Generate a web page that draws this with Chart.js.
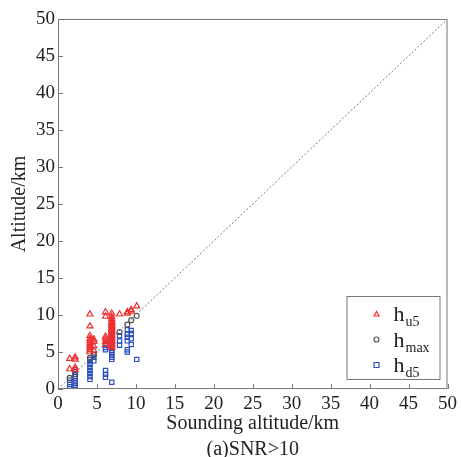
<!DOCTYPE html>
<html>
<head>
<meta charset="utf-8">
<script src="https://cdn.jsdelivr.net/npm/chart.js@4/dist/chart.umd.min.js"></script>
<style>
  html, body { margin: 0; padding: 0; background: #fff; }
</style>
</head>
<body>
<canvas id="c" width="461" height="457"></canvas>
<script>
const hu5Cols = [1.5, 2.2, 4.1, 4.6, 6.1, 6.9, 7.9, 8.9, 9.4, 10.1];
const hu5Vals = [
  [2.7, 4.1],
  [2.6, 2.9, 4.0, 4.3],
  [5.0, 5.3, 5.6, 5.9, 6.2, 6.5, 6.8, 7.2, 8.5, 10.1],
  [5.2, 5.8, 6.4, 6.7],
  [6.0, 6.4, 6.8, 7.1, 9.8, 10.4],
  [5.6, 5.8, 6.0, 6.2, 6.4, 6.6, 6.8, 7.0, 7.2, 7.4, 7.6, 7.8, 8.0, 8.2, 8.4, 8.6, 8.8, 9.0, 9.2, 9.5, 9.8, 10.2],
  [10.1],
  [10.2, 10.4],
  [10.5, 10.7],
  [11.2]
];

const hmaxCols = [1.5, 2.2, 4.1, 4.6, 6.1, 6.9, 7.9, 8.9, 9.4, 10.1];
const hmaxVals = [1.5, 2.0, 4.2, 4.6, 6.1, 6.8, 7.7, 8.7, 9.3, 9.9];

const hd5Cols = [1.5, 2.2, 4.1, 4.6, 6.1, 6.9, 7.9, 8.9, 9.4, 10.1];
const hd5Vals = [
  [0.3, 0.6, 1.2],
  [0.2, 0.5, 0.8, 1.1, 1.4, 1.7, 2.0, 2.3, 2.6],
  [1.3, 1.7, 2.1, 2.5, 2.9, 3.3, 3.7, 4.0],
  [3.8, 4.3, 4.7],
  [1.6, 2.0, 2.5, 5.3, 5.6],
  [0.9, 4.0, 4.3, 4.6, 4.9, 5.2, 5.5, 5.8, 6.1, 6.4, 6.7, 7.0],
  [5.9, 6.5, 7.2],
  [5.0, 5.3, 6.5, 7.0, 7.4, 8.0],
  [6.0, 6.8, 7.5, 7.9],
  [4.0]
];

const axisTicks = [0, 5, 10, 15, 20, 25, 30, 35, 40, 45, 50];

const toPoints = (cols, vals) =>
  cols.flatMap((x, i) => (Array.isArray(vals[i]) ? vals[i] : [vals[i]]).map(y => ({ x, y })));

const serif = "'Liberation Serif', 'DejaVu Serif', serif";
const axisColor = '#777';

// inward ticks plus the top/right spines
const framePlugin = {
  id: 'frame',
  afterDatasetsDraw(chart) {
    const { ctx, chartArea: a, scales } = chart;
    ctx.save();
    ctx.strokeStyle = axisColor;
    ctx.lineWidth = 1;
    ctx.strokeRect(a.left + 0.5, a.top + 0.5, a.right - a.left - 1, a.bottom - a.top - 1);
    ctx.beginPath();
    axisTicks.forEach(v => {
      const px = Math.round(scales.x.getPixelForValue(v)) + 0.5;
      ctx.moveTo(px, a.bottom);
      ctx.lineTo(px, a.bottom - 5);
      const py = Math.round(scales.y.getPixelForValue(v)) + 0.5;
      ctx.moveTo(a.left, py);
      ctx.lineTo(a.left + 5, py);
    });
    ctx.stroke();
    ctx.restore();
  }
};

// legend box with subscripted labels
const legendPlugin = {
  id: 'subLegend',
  afterDraw(chart) {
    const { ctx, chartArea: a } = chart;
    const box = { x: a.right - 101, y: a.bottom - 93, w: 93, h: 83 };
    ctx.save();
    ctx.fillStyle = '#fff';
    ctx.fillRect(box.x, box.y, box.w, box.h);
    ctx.strokeStyle = '#777';
    ctx.lineWidth = 1;
    ctx.strokeRect(box.x + 0.5, box.y + 0.5, box.w, box.h);
    const items = [
      { sub: 'u5', ds: chart.data.datasets[1] },
      { sub: 'max', ds: chart.data.datasets[2] },
      { sub: 'd5', ds: chart.data.datasets[3] }
    ];
    items.forEach((it, i) => {
      const cy = box.y + 18 + i * 25.5;
      const mx = box.x + 30;
      ctx.strokeStyle = it.ds.borderColor;
      ctx.lineWidth = 1.2;
      ctx.beginPath();
      const r = 2.5;
      if (it.ds.pointStyle === 'triangle') {
        ctx.moveTo(mx, cy - r);
        ctx.lineTo(mx + r, cy + r * 0.8);
        ctx.lineTo(mx - r, cy + r * 0.8);
        ctx.closePath();
      } else if (it.ds.pointStyle === 'rect') {
        ctx.rect(mx - r, cy - r, 2 * r, 2 * r);
      } else {
        ctx.arc(mx, cy, r, 0, Math.PI * 2);
      }
      ctx.stroke();
      ctx.fillStyle = '#222';
      ctx.textBaseline = 'alphabetic';
      ctx.textAlign = 'left';
      ctx.font = '22px ' + serif;
      const tx = box.x + 47;
      ctx.fillText('h', tx, cy + 7);
      const hw = ctx.measureText('h').width;
      ctx.font = '14px ' + serif;
      ctx.fillText(it.sub, tx + hw + 1, cy + 12);
    });
    ctx.restore();
  }
};

new Chart(document.getElementById('c'), {
  type: 'scatter',
  data: {
    datasets: [
      {
        type: 'line',
        data: [{ x: 0, y: 0 }, { x: 50, y: 50 }],
        borderColor: '#777',
        borderWidth: 1,
        borderDash: [2, 2],
        pointRadius: 0,
        order: 4
      },
      {
        label: 'hu5',
        data: toPoints(hu5Cols, hu5Vals),
        pointStyle: 'triangle',
        pointRadius: 3.5,
        borderColor: '#ee2f2f',
        backgroundColor: 'rgba(255,255,255,0)',
        borderWidth: 1.2,
        order: 1
      },
      {
        label: 'hmax',
        data: toPoints(hmaxCols, hmaxVals),
        pointStyle: 'circle',
        pointRadius: 2.5,
        borderColor: '#555',
        backgroundColor: 'rgba(255,255,255,0)',
        borderWidth: 1.2,
        order: 2
      },
      {
        label: 'hd5',
        data: toPoints(hd5Cols, hd5Vals),
        pointStyle: 'rect',
        pointRadius: 3,
        borderColor: '#2d4fbf',
        backgroundColor: 'rgba(255,255,255,0)',
        borderWidth: 1.2,
        order: 3
      }
    ]
  },
  options: {
    responsive: false,
    animation: false,
    layout: { padding: { top: 19, right: 13, left: 0, bottom: 0 } },
    plugins: {
      legend: { display: false },
      tooltip: { enabled: false }
    },
    scales: {
      x: {
        type: 'linear',
        min: 0,
        max: 50,
        afterBuildTicks: s => { s.ticks = axisTicks.map(v => ({ value: v })); },
        grid: { display: false, drawTicks: false },
        border: { display: false },
        ticks: { color: '#222', padding: 4, font: { family: serif, size: 19 } },
        title: {
          display: true,
          text: ['Sounding altitude/km', '(a)SNR>10'],
          color: '#222',
          padding: { top: 0, bottom: -6 },
          font: { family: serif, size: 20, lineHeight: 1.3 }
        },
        afterFit: s => { s.height = 68; }
      },
      y: {
        type: 'linear',
        min: 0,
        max: 50,
        afterBuildTicks: s => { s.ticks = axisTicks.map(v => ({ value: v })); },
        grid: { display: false, drawTicks: false },
        border: { display: false },
        ticks: { color: '#222', padding: 3, font: { family: serif, size: 19 } },
        title: {
          display: true,
          text: 'Altitude/km',
          color: '#222',
          padding: { top: 8, bottom: 0 },
          font: { family: serif, size: 20 }
        },
        afterFit: s => { s.width = 58; }
      }
    }
  },
  plugins: [framePlugin, legendPlugin]
});
</script>
</body>
</html>
